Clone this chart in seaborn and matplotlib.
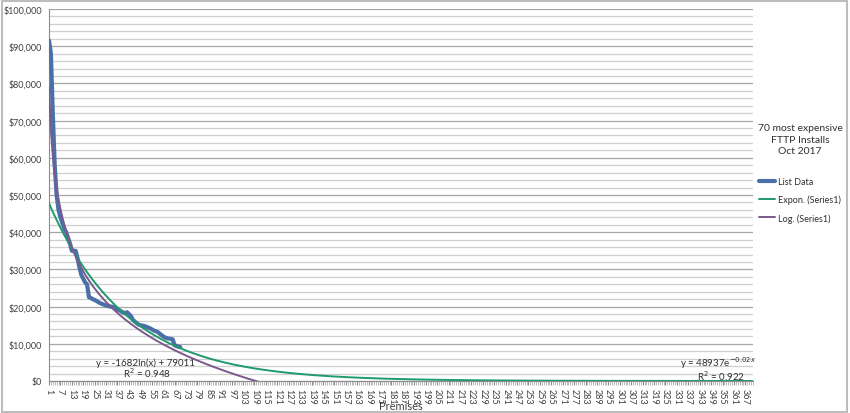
import numpy as np
import pandas as pd
import matplotlib
matplotlib.use("Agg")
import matplotlib.pyplot as plt
from matplotlib.patches import Rectangle
from matplotlib.ticker import MultipleLocator, FuncFormatter
import seaborn as sns

# ---------------- data ----------------
premises = list(range(1, 71))
cost = [91500, 88000, 72000, 58000, 50000, 46000, 44000, 42500, 41000, 40000,
        38500, 37000, 35000, 35000, 35000, 33000, 30500, 28500, 27500, 26500,
        26000, 22500, 22300, 22000, 21800, 21500, 21200, 20900, 20700, 20500,
        20300, 20200, 20000, 20000, 19800, 19500, 19200, 19000, 18700, 18400,
        18200, 18500, 18000, 17500, 16500, 16000, 15600, 15200, 15000, 14900,
        14800, 14600, 14400, 14200, 13900, 13600, 13400, 13200, 12800, 12400,
        12000, 11700, 11500, 11400, 11300, 11200, 9600, 9400, 9200, 9100]
n_categories = 371
log_coef, log_const = -16820.0, 79011.0
exp_coef, exp_rate = 48937.0, -0.0245
log_label = ["y = -1682ln(x) + 79011", "R$^2$ = 0.948"]
exp_label = ["y = 48937e$^{-0.02x}$", "R$^2$ = 0.922"]
legend_title = "70 most expensive\nFTTP Installs\nOct 2017"
series_names = ["List Data", "Expon. (Series1)", "Log. (Series1)"]

# ---------------- style ----------------
sns.set_style("white")
plt.rcParams['font.family'] = ['Lato', 'DejaVu Sans']

fig = plt.figure(figsize=(8.5, 4.14), dpi=100)
fig.patches.append(Rectangle((0.002, 0.003), 0.995, 0.993, transform=fig.transFigure,
                             fill=False, edgecolor="#bdbdbd", linewidth=1.5, zorder=0))
ax = fig.add_axes([49/850, 1-382/414, (753-49)/850, (382-10)/414])

xs = np.arange(1, n_categories + 1)
df = pd.DataFrame({"Premises": premises, "Cost": cost})
trend = pd.DataFrame({"Premises": xs,
                      "Exp": exp_coef * np.exp(exp_rate * xs),
                      "Log": log_coef * np.log(xs) + log_const})

sns.lineplot(data=df, x="Premises", y="Cost", ax=ax, color="#4a6fa9", linewidth=3.0,
             label=series_names[0], zorder=3)
sns.lineplot(data=trend, x="Premises", y="Exp", ax=ax, color="#1f9a6a", linewidth=1.4,
             label=series_names[1], zorder=4)
sns.lineplot(data=trend, x="Premises", y="Log", ax=ax, color="#7a5a8e", linewidth=1.4,
             label=series_names[2], zorder=4)

ax.set_xlim(1, n_categories)
ax.set_ylim(0, 100000)
ax.yaxis.set_major_locator(MultipleLocator(10000))
ax.yaxis.set_minor_locator(MultipleLocator(2000))
ax.yaxis.set_major_formatter(FuncFormatter(lambda v, p: f"${v:,.0f}"))
ax.grid(which="major", axis="y", color="#a6a6a6", linewidth=0.9)
ax.grid(which="minor", axis="y", color="#cfcfcf", linewidth=0.9)
ax.set_axisbelow(True)

ax.set_xticks(list(range(1, n_categories + 1, 6)))
ax.set_xticks(list(range(1, n_categories + 1)), minor=True)
ax.tick_params(axis="x", which="major", labelsize=6.5, labelrotation=-90, length=3,
               color="#8c8c8c", labelcolor="#404040", pad=2, bottom=True, direction="out")
ax.tick_params(axis="x", which="minor", length=3, color="#a0a0a0", width=0.5, bottom=True,
               direction="out")
ax.tick_params(axis="y", which="both", labelsize=6.5, labelcolor="#404040", length=0, pad=5)
for lbl in ax.get_xticklabels():
    lbl.set_verticalalignment("top")

for s in ["top", "right"]:
    ax.spines[s].set_visible(False)
ax.spines["left"].set_color("#8c8c8c")
ax.spines["bottom"].set_color("#8c8c8c")
ax.spines["left"].set_linewidth(0.8)
ax.spines["bottom"].set_linewidth(0.8)

ax.set_xlabel("Premises", fontsize=8, color="#404040", labelpad=-3)
ax.set_ylabel("")

ax.text(51.5, 5100, log_label[0], fontsize=7, color="#303030", ha="center", va="center")
ax.text(52.5, 2400, log_label[1], fontsize=7, color="#303030", ha="center", va="center")
ax.text(352.5, 5000, exp_label[0], fontsize=7, color="#303030", ha="center", va="center")
ax.text(354, 1500, exp_label[1], fontsize=7, color="#303030", ha="center", va="center")

leg = ax.legend(loc="upper left", bbox_to_anchor=(0.995, 0.715), frameon=False,
                title=legend_title, fontsize=6.5, title_fontsize=7.5,
                handlelength=1.8, handletextpad=0.3, labelspacing=0.95)
leg._legend_box.sep = 16
leg.get_title().set_multialignment("center")
leg.get_title().set_linespacing(1.35)
for t in leg.get_texts():
    t.set_color("#303030")
leg.get_title().set_color("#303030")

fig.savefig("out.png", dpi=100)
